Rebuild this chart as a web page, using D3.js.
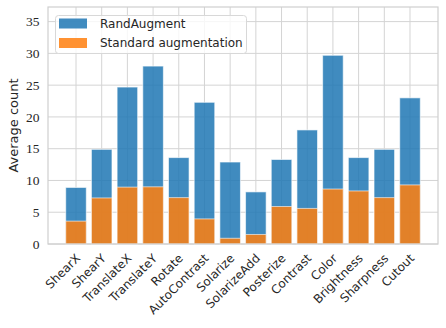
<!DOCTYPE html>
<html><head><meta charset="utf-8">
<script src="https://cdn.jsdelivr.net/npm/d3@7"></script>
<style>body{margin:0;background:#fff}</style>
</head><body><div id="chart"></div>
<script>
const categories = ["ShearX","ShearY","TranslateX","TranslateY","Rotate","AutoContrast","Solarize","SolarizeAdd","Posterize","Contrast","Color","Brightness","Sharpness","Cutout"];
const randAugment = [8.9,14.9,24.7,28.0,13.6,22.3,12.9,8.2,13.3,17.95,29.7,13.6,14.9,23.0];
const standardAug = [3.6,7.25,8.95,9.0,7.3,3.95,0.9,1.5,5.9,5.6,8.65,8.35,7.3,9.3];
const yTicks = [0,5,10,15,20,25,30,35];
const seriesNames = ["RandAugment","Standard augmentation"];
const seriesColors = ["#1f77b4","#ff7f0e"];

const W=446,H=328;
const L=48,R=438,T=7,B=244;
const svg=d3.select("#chart").append("svg").attr("width",W).attr("height",H);
const n=categories.length;
const x=d3.scaleLinear().domain([-0.4-0.69,(n-1)+0.4+0.69]).range([L,R]);
const y=d3.scaleLinear().domain([0,37.3]).range([B,T]);
const bw=(x(0.8)-x(0));
const grid="#d4d4d4";

svg.append("g").selectAll("line.v").data(categories).join("line")
  .attr("x1",(d,i)=>x(i)).attr("x2",(d,i)=>x(i)).attr("y1",T).attr("y2",B)
  .attr("stroke",grid).attr("stroke-width",1);
svg.append("g").selectAll("line.h").data(yTicks).join("line")
  .attr("x1",L).attr("x2",R).attr("y1",d=>y(d)).attr("y2",d=>y(d))
  .attr("stroke",grid).attr("stroke-width",1);

[randAugment,standardAug].forEach((vals,si)=>{
  svg.append("g").selectAll("rect").data(vals).join("rect")
    .attr("x",(d,i)=>x(i)-bw/2).attr("width",bw)
    .attr("y",d=>y(d)).attr("height",d=>y(0)-y(d))
    .attr("fill",seriesColors[si]).attr("fill-opacity",0.85)
    .attr("stroke","#fff").attr("stroke-opacity",0.6).attr("stroke-width",1);
});

svg.append("rect").attr("x",L).attr("y",T).attr("width",R-L).attr("height",B-T)
  .attr("fill","none").attr("stroke","#cfcfcf").attr("stroke-width",1.2);

svg.append("g").selectAll("text").data(yTicks).join("text")
  .attr("x",L-8.5).attr("y",d=>y(d)).attr("dy","0.35em")
  .attr("text-anchor","end").attr("font-family","'Liberation Serif', serif")
  .attr("font-size",13.5).attr("fill","#262626").text(d=>d);

svg.append("g").selectAll("text").data(categories).join("text")
  .attr("transform",(d,i)=>`translate(${x(i)+2},${B+12}) rotate(-45)`)
  .attr("text-anchor","end").attr("dy","0.35em")
  .attr("font-family","'DejaVu Sans', sans-serif").attr("font-size",12)
  .attr("fill","#262626").text(d=>d);

svg.append("text").attr("transform",`translate(18,${(T+B)/2}) rotate(-90)`)
  .attr("text-anchor","middle").attr("font-family","'DejaVu Sans', sans-serif")
  .attr("font-size",13).attr("fill","#262626").text("Average count");

const lg=svg.append("g");
lg.append("rect").attr("x",55.5).attr("y",15.5).attr("width",191).attr("height",38).attr("rx",3)
  .attr("fill","#fff").attr("fill-opacity",0.8).attr("stroke","#d8d8d8");
seriesNames.forEach((s,i)=>{
  lg.append("rect").attr("x",59).attr("y",18.5+i*19.5).attr("width",28).attr("height",10)
    .attr("fill",seriesColors[i]).attr("fill-opacity",0.85);
  lg.append("text").attr("x",100).attr("y",23.5+i*19.5).attr("dy","0.35em")
    .attr("font-family","'DejaVu Sans', sans-serif").attr("font-size",12)
    .attr("fill","#262626").text(s);
});
</script></body></html>
